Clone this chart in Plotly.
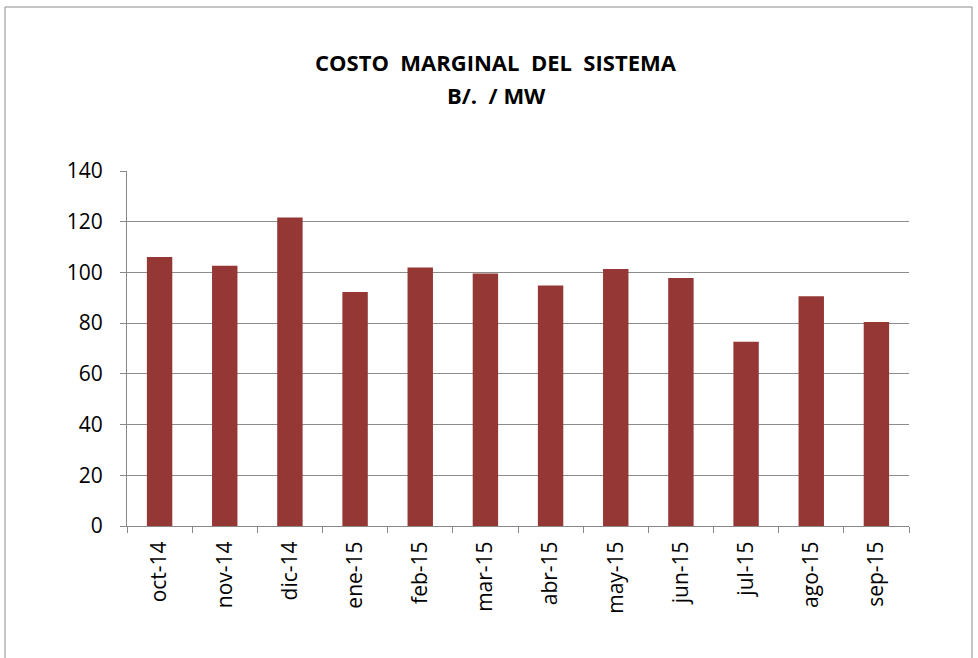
import plotly.graph_objects as go

months = ["oct-14", "nov-14", "dic-14", "ene-15", "feb-15", "mar-15",
          "abr-15", "may-15", "jun-15", "jul-15", "ago-15", "sep-15"]
costo = [106.1, 102.6, 121.7, 92.3, 101.9, 99.6, 94.8, 101.4, 97.8, 72.7, 90.6, 80.5]
title_line1 = "COSTO  MARGINAL  DEL  SISTEMA"
title_line2 = "B/.  / MW"

W, H = 978, 658
L, R, T, B = 127, 69, 171, 132
pw, ph = W - L - R, H - T - B

def px_x(p):
    return (p - L) / pw

def px_y(p):
    return (H - B - p) / ph

fig = go.Figure(go.Bar(x=months, y=costo, marker=dict(color="#953735", line=dict(width=0)),
                       width=0.39))

title_font = dict(size=22, family="Open Sans, sans-serif", color="black")
fig.update_layout(
    width=W, height=H,
    margin=dict(l=L, r=R, t=T, b=B),
    paper_bgcolor="white", plot_bgcolor="white",
    showlegend=False,
    font=dict(family="Open Sans, sans-serif", color="black"),
    annotations=[
        dict(text="<b>" + title_line1 + "</b>", xref="paper", yref="paper",
             x=px_x(496), y=px_y(62), xanchor="center", yanchor="middle",
             showarrow=False, font=title_font),
        dict(text="<b>" + title_line2 + "</b>", xref="paper", yref="paper",
             x=px_x(496), y=px_y(95), xanchor="center", yanchor="middle",
             showarrow=False, font=title_font),
    ],
    shapes=[dict(type="rect", xref="paper", yref="paper",
                 x0=px_x(5), x1=px_x(972), y0=px_y(662), y1=px_y(7),
                 line=dict(color="#8c8c8c", width=1), fillcolor="rgba(0,0,0,0)", layer="below")],
)
fig.update_xaxes(type="category", showline=True, linecolor="#888888", linewidth=1,
                 ticks="outside", tickson="boundaries", ticklen=6, tickcolor="#888888",
                 tickangle=-90, tickfont=dict(size=21, family="Open Sans, sans-serif"),
                 ticklabelstandoff=6, showgrid=False)
fig.update_yaxes(range=[0, 140], dtick=20, showline=True, linecolor="#888888", linewidth=1,
                 ticks="outside", ticklen=6, tickcolor="#888888",
                 showgrid=True, gridcolor="#8c8c8c", gridwidth=1,
                 tickfont=dict(size=21, family="Open Sans, sans-serif"),
                 ticklabelstandoff=13, zeroline=False)

fig.write_html("out.html", config={"displayModeBar": False},
               post_script="document.body.style.margin='0px';")
